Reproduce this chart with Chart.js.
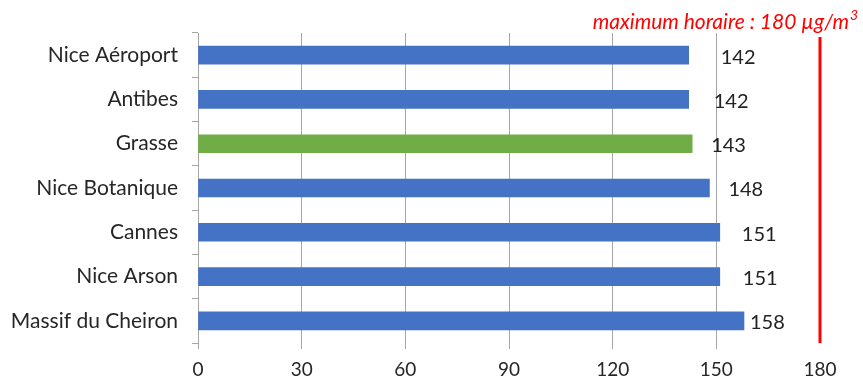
<!DOCTYPE html>
<html>
<head>
<meta charset="utf-8">
<script src="https://cdn.jsdelivr.net/npm/chart.js@4.4.1/dist/chart.umd.min.js"></script>
<style>
  body { margin: 0; background: #fff; }
  #wrap { width: 863px; height: 381px; }
</style>
</head>
<body>
<div id="wrap"><canvas id="ozoneChart" width="863" height="381"></canvas></div>
<script>
// Stations et maximum horaire d'ozone (µg/m3)
const stations = ['Nice Aéroport', 'Antibes', 'Grasse', 'Nice Botanique', 'Cannes', 'Nice Arson', 'Massif du Cheiron'];
const maxHoraire = [142, 142, 143, 148, 151, 151, 158];
const xTicks = [0, 30, 60, 90, 120, 150, 180];
const seuil = 180;
const seuilLabel = 'maximum horaire : 180 µg/m';

const BLUE = '#4472C4';
const GREEN = '#70AD47';
const FONT = 'Lato, "Liberation Sans", sans-serif';

// décalage des étiquettes comme sur l'original
const labelDx = [32, 25, 19, 19, 22, 23, 6];

const seuilPlugin = {
  id: 'seuil',
  afterDatasetsDraw(chart) {
    const { ctx, chartArea, scales } = chart;
    const x = scales.x.getPixelForValue(seuil);
    ctx.save();
    ctx.strokeStyle = '#FF0000';
    ctx.lineWidth = 3;
    ctx.beginPath();
    ctx.moveTo(x, chartArea.top + 4);
    ctx.lineTo(x, chartArea.bottom);
    ctx.stroke();

    // texte du seuil
    ctx.fillStyle = '#FF0000';
    ctx.font = 'italic 21px ' + FONT;
    ctx.textBaseline = 'alphabetic';
    ctx.textAlign = 'left';
    const supW = 11;
    const w = ctx.measureText(seuilLabel).width;
    const right = 860;
    ctx.fillText(seuilLabel, right - supW - w, 29);
    ctx.font = 'italic 14px ' + FONT;
    ctx.fillText('3', right - supW + 1, 20);

    // étiquettes de valeur
    const meta = chart.getDatasetMeta(0);
    ctx.fillStyle = '#222';
    ctx.font = '20px ' + FONT;
    ctx.textBaseline = 'middle';
    meta.data.forEach((bar, i) => {
      ctx.fillText(String(maxHoraire[i]), bar.x + labelDx[i], bar.y + 2);
    });
    ctx.restore();
  }
};

new Chart(document.getElementById('ozoneChart'), {
  type: 'bar',
  data: {
    labels: stations,
    datasets: [{
      data: maxHoraire,
      backgroundColor: stations.map(s => s === 'Grasse' ? GREEN : BLUE),
      borderWidth: 0,
      barThickness: 18
    }]
  },
  options: {
    indexAxis: 'y',
    responsive: false,
    animation: false,
    layout: { padding: { top: 33, right: 43, left: 0, bottom: 0 } },
    plugins: {
      legend: { display: false },
      tooltip: { enabled: false }
    },
    scales: {
      x: {
        min: 0,
        max: 180,
        afterBuildTicks: (axis) => { axis.ticks = xTicks.map(v => ({ value: v })); },
        afterFit: (axis) => { axis.height = 38; },
        border: { display: false },
        grid: {
          color: (c) => (c.tick && c.tick.value === seuil) ? 'rgba(0,0,0,0)' : '#A6A6A6',
          tickLength: 6,
          lineWidth: 1
        },
        ticks: {
          color: '#262626',
          font: { family: FONT, size: 19 },
          padding: 9
        }
      },
      y: {
        afterFit: (axis) => { axis.width = 198; },
        border: { display: true, color: '#A6A6A6', width: 1 },
        grid: {
          drawOnChartArea: false,
          color: '#A6A6A6',
          tickLength: 6,
          offset: true
        },
        ticks: {
          color: '#262626',
          font: { family: FONT, size: 21 },
          padding: 14
        }
      }
    }
  },
  plugins: [seuilPlugin]
});
</script>
</body>
</html>
